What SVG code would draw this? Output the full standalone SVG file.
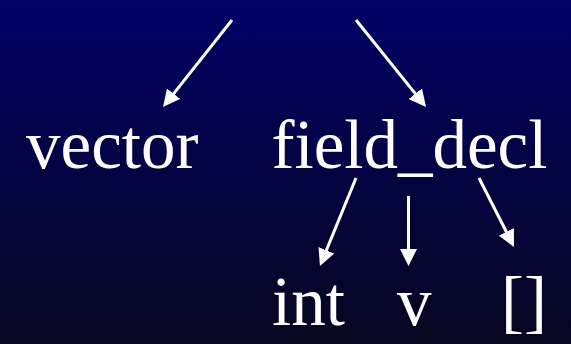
<svg xmlns="http://www.w3.org/2000/svg" width="571" height="344" viewBox="0 0 571 344">
  <defs>
    <linearGradient id="bg" x1="0" y1="0" x2="0" y2="1">
      <stop offset="0" stop-color="#000066"/>
      <stop offset="1" stop-color="#06061f"/>
    </linearGradient>
    <marker id="ah" markerUnits="userSpaceOnUse" markerWidth="17" markerHeight="17" refX="5" refY="8.5" orient="auto" viewBox="0 0 17 17">
      <path d="M0,0 L17,8.5 L0,17 z" fill="#ffffff"/>
    </marker>
  </defs>
  <style>
    .lbl { font-family: "Liberation Serif", "Times New Roman", serif; font-size: 69px; fill: #ffffff; }
    .edge { stroke: #ffffff; stroke-width: 3; fill: none; marker-end: url(#ah); }
  </style>
  <rect x="0" y="0" width="571" height="344" fill="url(#bg)"/>
  <g id="connectors">
    <line class="edge" x1="232" y1="20" x2="170.5" y2="97.6"/>
    <line class="edge" x1="356" y1="20" x2="418.5" y2="97.6"/>
    <line class="edge" x1="356" y1="178" x2="324.5" y2="254.9"/>
    <line class="edge" x1="408.5" y1="196" x2="408.5" y2="254"/>
    <line class="edge" x1="479" y1="178" x2="508.6" y2="236.3"/>
  </g>
  <g id="node-vector"><text class="lbl" x="26" y="168">vector</text></g>
  <g id="node-field_decl"><text class="lbl" x="271.5" y="168">field_decl</text></g>
  <g id="node-int"><text class="lbl" x="272" y="325">int</text></g>
  <g id="node-v"><text class="lbl" x="397" y="325">v</text></g>
  <g id="node-brackets"><text class="lbl" x="501" y="325">[]</text></g>
</svg>
